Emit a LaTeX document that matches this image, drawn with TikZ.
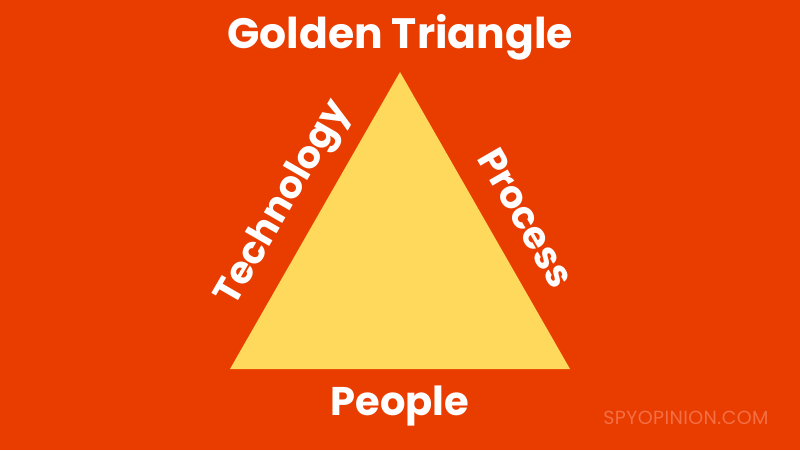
\documentclass[tikz,border=0pt]{standalone}
\usepackage{fontspec}
\setmainfont{Poppins}
\definecolor{bgred}{HTML}{E93D00}
\definecolor{gold}{HTML}{FFD95B}
\definecolor{wm}{HTML}{F46F45}
\begin{document}
\begin{tikzpicture}[x=1pt,y=-1pt,
  lbl/.style={text=white,font=\bfseries\fontsize{38}{40}\selectfont,inner sep=0pt}]
\fill[bgred] (0,0) rectangle (800,450);
\useasboundingbox (0,0) rectangle (800,450);
\coordinate (apex) at (400,72);
\coordinate (bl) at (230,369);
\coordinate (br) at (570,369);
\fill[gold] (apex) -- (bl) -- (br) -- cycle;
\node[lbl,font=\bfseries\fontsize{42.5}{44}\selectfont] (title) at (400,37) {Golden Triangle};
\node[lbl,rotate=60] (tech) at (284,204) {Technology};
\node[lbl,rotate=-60] (proc) at (526,218) {Process};
\node[lbl,font=\bfseries\fontsize{40}{42}\selectfont] (people) at (400,406) {People};
\node[text=wm,font=\fontsize{19}{22}\selectfont\addfontfeatures{LetterSpace=2},inner sep=0pt] (wmk) at (686,418) {SPYOPINION.COM};
\end{tikzpicture}
\end{document}
